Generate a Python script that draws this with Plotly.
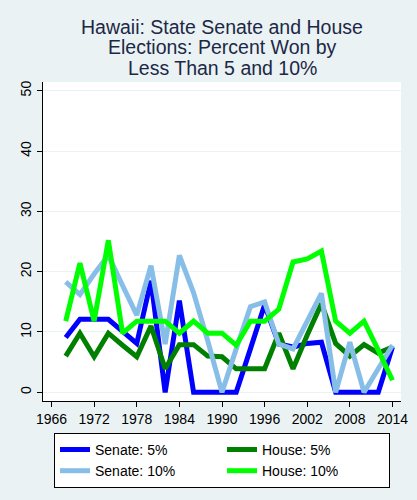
import plotly.graph_objects as go

years = [1968, 1970, 1972, 1974, 1976, 1978, 1980, 1982, 1984, 1986, 1988, 1990,
         1992, 1994, 1996, 1998, 2000, 2002, 2004, 2006, 2008, 2010, 2012, 2014]

senate_5 = [9.1, 12.1, 12.1, 12.1, 10.1, 8.1, 18.5, 0, 15.2, 0, 0, 0,
            0, 7.2, 14.5, 8.0, 7.5, 8.1, 8.3, 0, 0, 0, 0, 7.5]
house_5 = [6.0, 9.8, 5.9, 9.8, 7.8, 5.9, 11.0, 3.9, 7.9, 7.9, 6.0, 5.9,
           3.9, 3.9, 3.9, 9.8, 3.9, 9.5, 14.7, 8.1, 6.0, 7.9, 6.5, 7.5]
senate_10 = [18.3, 16.2, 19.6, 22.7, 17.7, 12.8, 21.0, 8.0, 22.7, 16.5, 8.5, 0,
             7.2, 14.2, 15.0, 8.0, 7.2, 12.0, 16.4, 0, 8.3, 0, 4.0, 7.8]
house_10 = [11.8, 21.4, 11.8, 25.2, 9.8, 11.8, 11.8, 11.8, 9.8, 11.8, 9.8, 9.8,
            7.8, 11.8, 11.8, 13.8, 21.6, 22.1, 23.4, 11.8, 9.8, 11.8, 7.0, 2.0]

x_ticks = [1966, 1972, 1978, 1984, 1990, 1996, 2002, 2008, 2014]
y_ticks = [0, 10, 20, 30, 40, 50]

title_lines = ["Hawaii: State Senate and House",
               "Elections: Percent Won by",
               "Less Than 5 and 10%"]

font = "Liberation Sans, Arial, sans-serif"
bg = "#EAF2F3"

fig = go.Figure()

series = [
    ("Senate: 5%", senate_5, "#0000FF"),
    ("House: 5%", house_5, "#008000"),
    ("Senate: 10%", senate_10, "#87BEE8"),
    ("House: 10%", house_10, "#00FF00"),
]
for name, vals, col in series:
    fig.add_trace(go.Scatter(x=years, y=vals, mode="lines", name=name,
                             line=dict(color=col, width=5)))

# title, one annotation per line
for i, txt in enumerate(title_lines):
    fig.add_annotation(text=txt, xref="paper", yref="paper",
                       x=0.5, y=(401 - (27 + 20.5 * i)) / 319,
                       xanchor="center", yanchor="middle", showarrow=False,
                       font=dict(family=font, size=19.5, color="#1c2846"))

fig.update_layout(
    width=417, height=500,
    margin=dict(l=43, r=16, t=82, b=99, autoexpand=False),
    paper_bgcolor=bg, plot_bgcolor="white",
    font=dict(family=font, size=14, color="black"),
    showlegend=True,
    legend=dict(orientation="h", x=0.5, xanchor="center", y=-0.1, yanchor="top",
                bgcolor="white", bordercolor="black", borderwidth=1,
                entrywidth=122, font=dict(size=14), traceorder="normal"),
)
fig.update_xaxes(range=[1964.8, 2015.2], tickvals=x_ticks, showgrid=False,
                 zeroline=False, showline=True, linecolor="black", linewidth=1,
                 ticks="outside", ticklen=5, tickcolor="black")
fig.update_yaxes(range=[-1.44, 51.44], tickvals=y_ticks, showgrid=True,
                 gridcolor=bg, gridwidth=1, zeroline=False, showline=True,
                 linecolor="black", linewidth=1, ticks="outside", ticklen=5,
                 tickcolor="black", tickangle=-90)

# page body has a default 8px margin; drop it so the figure sits at 0,0
fig.write_html("out.html", config={"displayModeBar": False},
               post_script="document.body.style.margin='0px';"
                           "document.body.style.background='#EAF2F3';")
